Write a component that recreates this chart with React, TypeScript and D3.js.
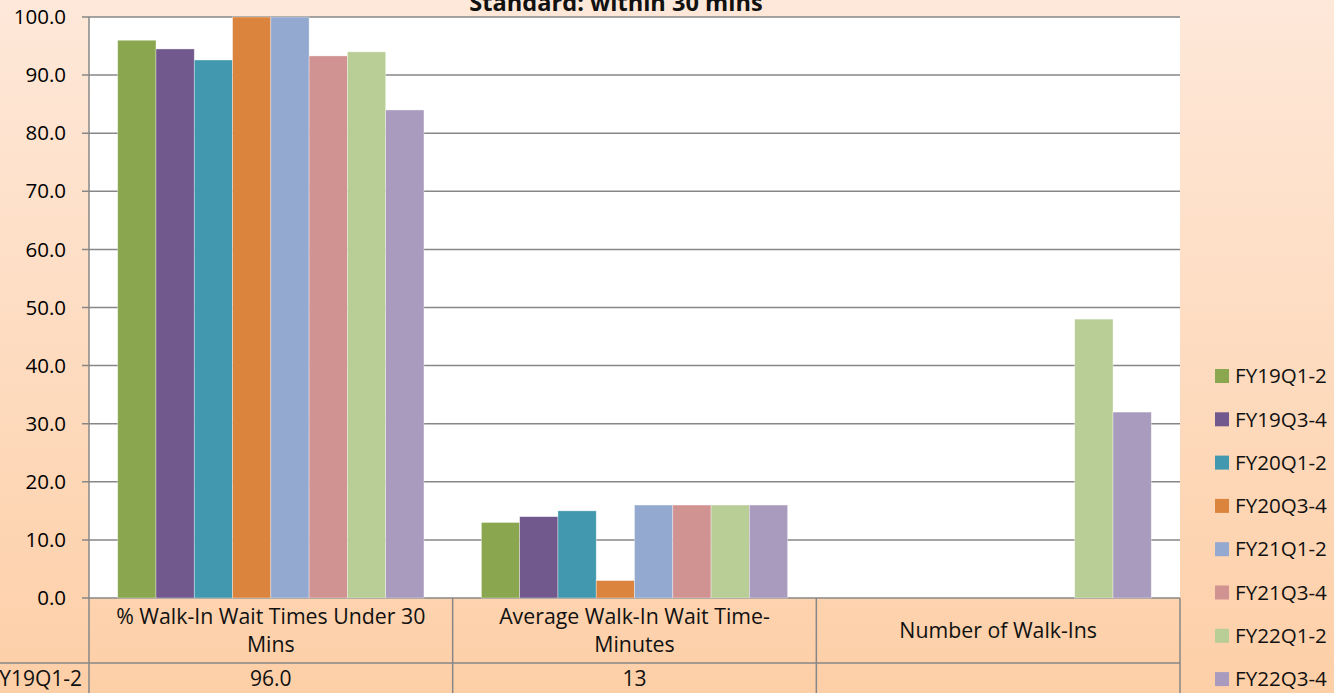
import * as d3 from "d3";
import { useRef, useEffect } from "react";

const categories = [
  "% Walk-In Wait Times Under 30 Mins",
  "Average Walk-In Wait Time-Minutes",
  "Number of Walk-Ins",
];
const categoryLines = [
  ["% Walk-In Wait Times Under 30", "Mins"],
  ["Average Walk-In Wait Time-", "Minutes"],
  ["Number of Walk-Ins"],
];
const series = [
  "FY19Q1-2",
  "FY19Q3-4",
  "FY20Q1-2",
  "FY20Q3-4",
  "FY21Q1-2",
  "FY21Q3-4",
  "FY22Q1-2",
  "FY22Q3-4",
];
const colors = [
  "#8aa64e",
  "#71598e",
  "#4298ae",
  "#db843d",
  "#93a9cf",
  "#d19392",
  "#b9cd96",
  "#a99bbd",
];
// one array per category, values in series order (null = no data)
const walkInPct = [96.0, 94.5, 92.6, 100.0, 100.0, 93.3, 94.0, 84.0];
const avgWait = [13, 14, 15, 3, 16, 16, 16, 16];
const numWalkIns = [null, null, null, null, null, null, 48, 32];
const tableFormats = [".1f", "d", "d"];
const yTicks = [0, 10, 20, 30, 40, 50, 60, 70, 80, 90, 100];
const title = "Standard: within 30 mins";

const App = () => {
  const container = useRef(null);

  useEffect(() => {
    createChart();
  });

  const createChart = () => {
    const width = 1334;
    const height = 693;
    const margins = { t: 17, l: 89, r: 154, b: 95 };
    const font = "'Open Sans', sans-serif";
    const grid = "#878787";

    const values = [walkInPct, avgWait, numWalkIns];

    const svg = d3
      .select(container.current)
      .selectAll("svg")
      .data([0])
      .join("svg")
      .attr("width", width)
      .attr("height", height)
      .style("display", "block");

    svg.selectAll("*").remove();

    const defs = svg.append("defs");
    const grad = defs
      .append("linearGradient")
      .attr("id", "bg")
      .attr("x1", 0)
      .attr("y1", 0)
      .attr("x2", 0)
      .attr("y2", 1);
    grad.append("stop").attr("offset", 0).attr("stop-color", "#fee8d9");
    grad.append("stop").attr("offset", 1).attr("stop-color", "#fdcfa7");

    svg
      .append("rect")
      .attr("width", width)
      .attr("height", height)
      .attr("fill", "url(#bg)");

    const x0 = d3
      .scaleBand()
      .domain(categories)
      .range([margins.l, width - margins.r]);

    const x1 = d3
      .scaleBand()
      .domain(series)
      .range([0, x0.bandwidth()])
      .paddingOuter(0.75);

    const yScale = d3
      .scaleLinear()
      .domain([0, 100])
      .range([height - margins.b, margins.t]);

    const y0 = yScale(0);

    // plot area
    svg
      .append("rect")
      .attr("x", margins.l)
      .attr("y", margins.t)
      .attr("width", width - margins.r - margins.l)
      .attr("height", y0 - margins.t)
      .attr("fill", "white");

    // gridlines
    svg
      .append("g")
      .selectAll("line")
      .data(yTicks)
      .join("line")
      .attr("x1", margins.l - 7)
      .attr("x2", width - margins.r)
      .attr("y1", (d) => yScale(d))
      .attr("y2", (d) => yScale(d))
      .attr("stroke", grid)
      .attr("stroke-width", 1.5);

    // y tick labels
    svg
      .append("g")
      .selectAll("text")
      .data(yTicks)
      .join("text")
      .attr("x", 66)
      .attr("y", (d) => yScale(d))
      .attr("dy", "0.35em")
      .attr("text-anchor", "end")
      .style("font-family", font)
      .style("font-size", "20.5px")
      .attr("fill", "#000")
      .text((d) => d3.format(".1f")(d));

    // bars
    const groups = svg
      .append("g")
      .selectAll("g")
      .data(categories)
      .join("g")
      .attr("transform", (d) => `translate(${x0(d)},0)`);

    groups
      .selectAll("rect")
      .data((d, i) =>
        series
          .map((s, j) => ({ s, j, v: values[i][j] }))
          .filter((e) => e.v !== null)
      )
      .join("rect")
      .attr("x", (d) => x1(d.s))
      .attr("width", x1.bandwidth())
      .attr("y", (d) => yScale(d.v))
      .attr("height", (d) => y0 - yScale(d.v))
      .attr("fill", (d) => colors[d.j])
      .attr("stroke", "rgba(255,255,255,0.5)")
      .attr("stroke-width", 0.7);

    // axis line
    svg
      .append("line")
      .attr("x1", margins.l)
      .attr("x2", margins.l)
      .attr("y1", margins.t)
      .attr("y2", height)
      .attr("stroke", grid)
      .attr("stroke-width", 1.5);

    // data table
    const rowTop = y0;
    const rowMid = 663;
    const tbl = svg.append("g");

    tbl
      .append("line")
      .attr("x1", 0)
      .attr("x2", width - margins.r)
      .attr("y1", rowMid)
      .attr("y2", rowMid)
      .attr("stroke", grid)
      .attr("stroke-width", 1.5);

    tbl
      .selectAll(".vline")
      .data(categories)
      .join("line")
      .attr("class", "vline")
      .attr("x1", (d) => x0(d) + x0.bandwidth())
      .attr("x2", (d) => x0(d) + x0.bandwidth())
      .attr("y1", rowTop)
      .attr("y2", height)
      .attr("stroke", grid)
      .attr("stroke-width", 1.5);

    categories.forEach((c, i) => {
      const lines = categoryLines[i];
      const cx = x0(c) + x0.bandwidth() / 2;
      const mid = (rowTop + rowMid) / 2;
      lines.forEach((l, k) => {
        tbl
          .append("text")
          .attr("x", cx)
          .attr("y", mid + (k - (lines.length - 1) / 2) * 28)
          .attr("dy", "0.35em")
          .attr("text-anchor", "middle")
          .style("font-family", font)
          .style("font-size", "21.3px")
          .attr("fill", "#111")
          .text(l);
      });
      const v = values[i][0];
      tbl
        .append("text")
        .attr("x", cx)
        .attr("y", rowMid + 16)
        .attr("dy", "0.35em")
        .attr("text-anchor", "middle")
        .style("font-family", font)
        .style("font-size", "21px")
        .attr("fill", "#111")
        .text(v === null ? "" : d3.format(tableFormats[i])(v));
    });

    tbl
      .append("text")
      .attr("x", 82)
      .attr("y", rowMid + 16)
      .attr("dy", "0.35em")
      .attr("text-anchor", "end")
      .style("font-family", font)
      .style("font-size", "21px")
      .attr("fill", "#111")
      .text(series[0]);

    // legend
    const legend = svg
      .append("g")
      .selectAll("g")
      .data(series)
      .join("g")
      .attr("transform", (d, i) => `translate(1215,${376 + i * 43.3})`);

    legend
      .append("rect")
      .attr("x", 0)
      .attr("y", -7)
      .attr("width", 14)
      .attr("height", 14)
      .attr("fill", (d, i) => colors[i]);

    legend
      .append("text")
      .attr("x", 20)
      .attr("y", 0)
      .attr("dy", "0.35em")
      .style("font-family", font)
      .style("font-size", "20.6px")
      .attr("fill", "#111")
      .text((d) => d);

    // title (clipped at the top like the source)
    svg
      .append("text")
      .attr("x", 616)
      .attr("y", 11)
      .attr("text-anchor", "middle")
      .style("font-family", font)
      .style("font-size", "23.6px")
      .style("font-weight", "bold")
      .attr("fill", "#111")
      .text(title);
  };

  return (
    <div
      ref={container}
      style={{ position: "absolute", left: 0, top: 0 }}
    ></div>
  );
};

export default App;
